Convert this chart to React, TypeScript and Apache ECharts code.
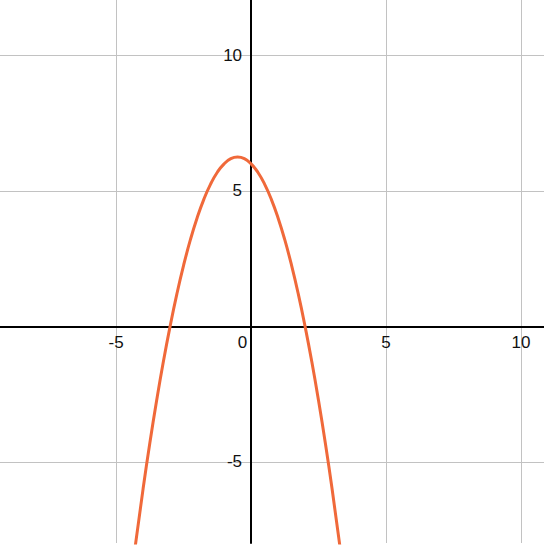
import React, { useEffect, useRef } from 'react';
import * as echarts from 'echarts';

// points
const xValues = [
  -4.3, -4, -3.75, -3.5, -3.25, -3, -2.75, -2.5, -2.25, -2, -1.75, -1.5, -1.25, -1, -0.75, -0.5,
  -0.25, 0, 0.25, 0.5, 0.75, 1, 1.25, 1.5, 1.75, 2, 2.25, 2.5, 2.75, 3, 3.3
];
const yValues = [
  -8.19, -6, -4.31, -2.75, -1.31, 0, 1.19, 2.25, 3.19, 4, 4.69, 5.25, 5.69, 6, 6.19, 6.25,
  6.19, 6, 5.69, 5.25, 4.69, 4, 3.19, 2.25, 1.19, 0, -1.31, -2.75, -4.31, -6, -8.19
];

const xRange = [-9.3, 10.85];
const yRange = [-8, 12.05];

const labelFont = '"Liberation Sans", Arial, Helvetica, sans-serif';

const WIDTH = 544;
const PLOT_HEIGHT = 543;

const App: React.FC = () => {
  const chartRef = useRef<HTMLDivElement>(null);

  useEffect(() => {
    if (!chartRef.current) return;
    const chart = echarts.init(chartRef.current, null, { renderer: 'svg' });

    // move each axis onto the other's zero
    const xAxisOffset = -(PLOT_HEIGHT * (0 - yRange[0])) / (yRange[1] - yRange[0]);
    const yAxisOffset = -(WIDTH * (0 - xRange[0])) / (xRange[1] - xRange[0]);

    const axisCommon = {
      type: 'value' as const,
      axisTick: { show: false },
      axisLine: { onZero: false, lineStyle: { color: '#000', width: 2 } },
      splitLine: {
        show: true,
        showMinLine: false,
        showMaxLine: false,
        lineStyle: { color: '#c2c2c2', width: 1 }
      }
    };

    chart.setOption({
      animation: false,
      grid: { left: 0, right: 0, top: 0, bottom: 9, containLabel: false, outerBoundsMode: 'none' },
      xAxis: {
        ...axisCommon,
        position: 'bottom',
        offset: xAxisOffset,
        min: xRange[0],
        max: xRange[1],
        z: 3,
        axisLabel: {
          showMinLabel: false,
          showMaxLabel: false,
          margin: 8,
          color: '#111',
          fontSize: 17,
          fontFamily: labelFont,
          formatter: (v: number) => (v === 0 ? '{z|0}' : String(v)),
          rich: {
            z: { padding: [0, 17, 0, 0], fontSize: 17, fontFamily: labelFont, color: '#111' }
          }
        }
      },
      yAxis: {
        ...axisCommon,
        position: 'left',
        offset: yAxisOffset,
        min: yRange[0],
        max: yRange[1],
        z: 3,
        axisLabel: {
          showMinLabel: false,
          showMaxLabel: false,
          margin: 9,
          color: '#111',
          fontSize: 17,
          fontFamily: labelFont,
          formatter: (v: number) => (v === 0 ? '' : String(v))
        }
      },
      series: [
        {
          type: 'line',
          data: xValues.map((x, i) => [x, yValues[i]]),
          smooth: true,
          showSymbol: false,
          clip: true,
          z: 4,
          lineStyle: { color: '#f0693a', width: 3 }
        }
      ]
    });

    return () => {
      chart.dispose();
    };
  }, []);

  return (
    <div
      ref={chartRef}
      style={{ position: 'absolute', left: 0, top: 0, width: WIDTH + 'px', height: '552px', background: '#fff' }}
    ></div>
  );
};

export default App;
